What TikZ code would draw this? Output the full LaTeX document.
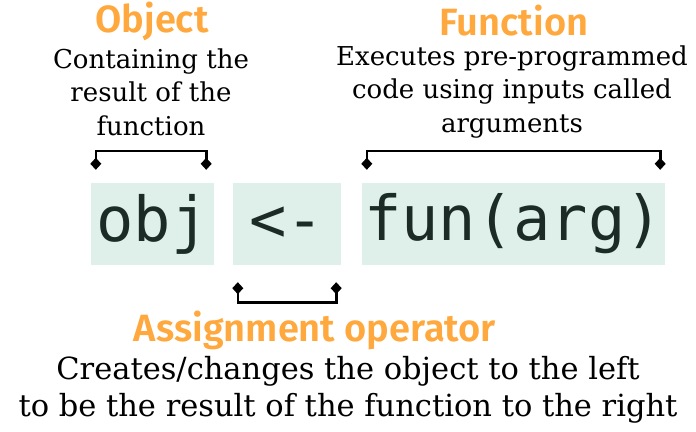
\documentclass[tikz,border=0pt]{standalone}
\usepackage{fontspec}
\setmainfont{DejaVu Serif}
\newfontfamily\headfont{Fira Sans}[UprightFont=* SemiBold]
\newfontfamily\codefont{DejaVu Sans Mono}
\usepackage{xcolor}
\definecolor{Mint}{HTML}{DFF0EA}
\definecolor{Tangerine}{HTML}{FFA83D}
\definecolor{CodeInk}{HTML}{1C2B25}
\usepackage{tikz}
\usetikzlibrary{arrows.meta, calc, positioning}

\begin{document}
\begin{tikzpicture}[x=1pt, y=-1pt,
  codebox/.style={rectangle, fill=Mint, minimum height=82pt, inner sep=0pt,
    font=\codefont\fontsize{62}{62}\selectfont, text=CodeInk},
  head/.style={font=\headfont\fontsize{38}{40}\selectfont, text=Tangerine, inner sep=0pt},
  desc/.style={font=\fontsize{26}{33.5}\selectfont, align=center, inner sep=0pt},
  brace/.style={line width=2.6pt, {Diamond[length=12pt,width=11pt]}-{Diamond[length=12pt,width=11pt]}},
]
\useasboundingbox (0,0) rectangle (696,431);

%% -- code boxes ----------------------------------------------
\node[codebox, minimum width=123pt] (obj) at (152.5,224) {obj};
\node[codebox, minimum width=108pt] (asg) at (287,224) {<-};
\node[codebox, minimum width=303pt] (fun) at (513.5,224) {fun(arg)};

%% -- labels ---------------------------------------------------
\node[head] (objT) at (152,21) {Object};
\node[desc] (objD) at (151,92) {Containing the\\result of the\\function};

\node[head] (funT) at (514,21) {Function};
\node[desc] (funD) at (512,92) {Executes pre-programmed\\code using inputs called\\arguments};

\node[head] (asgT) at (315,330) {Assignment operator};
\node[desc, font=\fontsize{30.5}{37}\selectfont] (asgD) at (348,390)
  {Creates/changes the object to the left\\to be the result of the function to the right};

%% -- brackets -------------------------------------------------
\coordinate (objL) at ($(obj.north west)+(5,-13)$);
\coordinate (objR) at ($(obj.north east)+(-8,-13)$);
\coordinate (funL) at ($(fun.north west)+(5,-13)$);
\coordinate (funR) at ($(fun.north east)+(-5,-13)$);
\coordinate (asgL) at ($(asg.south west)+(5,17)$);
\coordinate (asgR) at ($(asg.south east)+(-5,17)$);

\draw[brace] (objL) -- ++(0,-19) -| (objR);
\draw[brace] (funL) -- ++(0,-19) -| (funR);
\draw[brace] (asgL) -- ++(0,20) -| (asgR);

\end{tikzpicture}
\end{document}
